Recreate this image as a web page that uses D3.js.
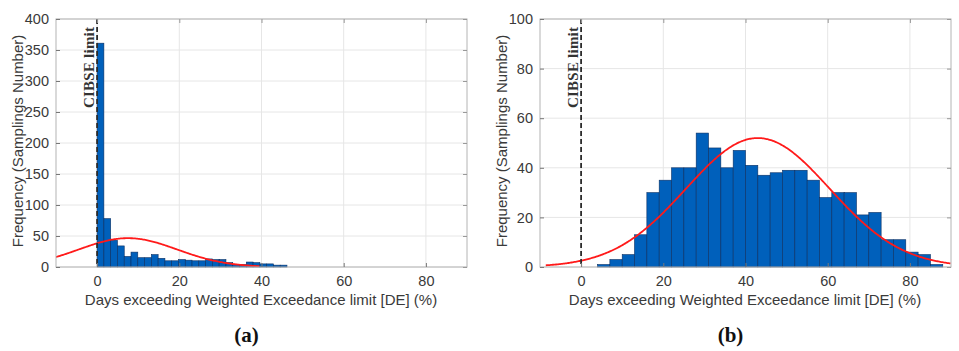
<!DOCTYPE html>
<html>
<head>
<meta charset="utf-8">
<script src="https://cdn.jsdelivr.net/npm/d3@7"></script>
<style>
  body { margin: 0; background: #fff; }
  svg { display: block; }
</style>
</head>
<body>
<svg id="chart" width="959" height="351"></svg>
<script>
// Shared axis settings
const xDomain = [-10, 90];
const xTicks = [0, 20, 40, 60, 80];
const limitX = 0;                       // CIBSE limit position (DE = 0 %)

// Panel (a): histogram bins
const binStartA = 0;
const binWidthA = 1.65;
const countsA = [361, 78, 43, 34, 17, 24, 15, 15, 20, 14, 10, 10, 12, 11,
                 10, 10, 13, 12, 12, 7, 4, 4, 8, 7, 5, 5, 3, 3];
const yDomainA = [0, 400];
const yTicksA = [0, 50, 100, 150, 200, 250, 300, 350, 400];
// Normal fit (a): mean, standard deviation, peak height, drawn range
const fitA = [7.5, 12, 46.5];
const fitRangeA = [-10, 39.5];

// Panel (b): histogram bins
const binStartB = 4;
const binWidthB = 3;
const countsB = [1, 3, 5, 13, 30, 35, 40, 40, 54, 48, 40, 47, 41, 37,
                 38, 39, 39, 35, 28, 30, 30, 21, 22, 11, 11, 6, 5, 1];
const yDomainB = [0, 100];
const yTicksB = [0, 20, 40, 60, 80, 100];
// Normal fit (b)
const fitB = [43, 17.5, 52];
const fitRangeB = [-8.6, 90];

const xLabel = "Days exceeding Weighted Exceedance limit [DE] (%)";
const yLabel = "Frequency (Samplings Number)";
const limitLabel = "CIBSE limit";

const svg = d3.select("#chart");
const sansFont = "'Liberation Sans', Arial, Helvetica, sans-serif";
const serifFont = "'Liberation Serif', 'Times New Roman', serif";

function drawPanel(opts) {
  const { left, right, top, bottom, binStart, binWidth, counts,
          yDomain, yTicks, fit, fitRange, tag, id } = opts;

  const x = d3.scaleLinear().domain(xDomain).range([left, right]);
  const y = d3.scaleLinear().domain(yDomain).range([bottom, top]);
  const g = svg.append("g");

  g.append("clipPath").attr("id", "clip-" + id)
    .append("rect").attr("x", left).attr("y", top)
    .attr("width", right - left).attr("height", bottom - top);

  // grid
  const grid = g.append("g").attr("stroke", "#e6e6e6").attr("stroke-width", 1);
  grid.selectAll("line.gx").data(xTicks).join("line")
    .attr("x1", d => x(d)).attr("x2", d => x(d))
    .attr("y1", top).attr("y2", bottom);
  grid.selectAll("line.gy").data(yTicks).join("line")
    .attr("x1", left).attr("x2", right)
    .attr("y1", d => y(d)).attr("y2", d => y(d));

  // histogram bars
  const bins = counts.map((c, i) => ({
    x0: binStart + i * binWidth,
    x1: binStart + (i + 1) * binWidth,
    c
  }));
  g.append("g")
    .selectAll("rect").data(bins).join("rect")
    .attr("x", d => x(d.x0))
    .attr("width", d => x(d.x1) - x(d.x0))
    .attr("y", d => y(d.c))
    .attr("height", d => y(0) - y(d.c))
    .attr("fill", "#0060bb")
    .attr("stroke", "#0a2f63")
    .attr("stroke-width", 0.6);

  // fitted normal curve
  const [mu, sd, peak] = fit;
  const pts = d3.range(fitRange[0], fitRange[1] + 0.001, 0.25)
    .map(v => [v, peak * Math.exp(-((v - mu) ** 2) / (2 * sd * sd))]);
  g.append("path")
    .datum(pts)
    .attr("clip-path", `url(#clip-${id})`)
    .attr("fill", "none")
    .attr("stroke", "#ff1a1a")
    .attr("stroke-width", 1.8)
    .attr("d", d3.line().x(d => x(d[0])).y(d => y(d[1])));

  // CIBSE limit line and label
  g.append("line")
    .attr("x1", x(limitX)).attr("x2", x(limitX))
    .attr("y1", top).attr("y2", bottom)
    .attr("stroke", "#2b2b2b")
    .attr("stroke-width", 1.8)
    .attr("stroke-dasharray", "5,3");
  g.append("text")
    .attr("transform", `translate(${x(limitX) - 3},${top + 89}) rotate(-90)`)
    .attr("font-family", serifFont)
    .attr("font-weight", "bold")
    .attr("font-size", 15)
    .attr("textLength", 81)
    .attr("lengthAdjust", "spacing")
    .attr("fill", "#333")
    .text(limitLabel);

  // axes frame
  g.append("rect")
    .attr("x", left).attr("y", top)
    .attr("width", right - left).attr("height", bottom - top)
    .attr("fill", "none").attr("stroke", "#b4b4b4").attr("stroke-width", 1);

  // bottom axis
  const xAxis = d3.axisBottom(x).tickValues(xTicks).tickSizeInner(-4).tickSizeOuter(0).tickPadding(9);
  const gx = g.append("g").attr("transform", `translate(0,${bottom})`).call(xAxis);
  gx.select(".domain").remove();
  gx.selectAll(".tick line").attr("stroke", "#777");
  gx.selectAll(".tick text").attr("fill", "#3a3a3a")
    .attr("font-family", sansFont).attr("font-size", 14.5);

  // top ticks
  const gxt = g.append("g").attr("transform", `translate(0,${top})`)
    .call(d3.axisTop(x).tickValues(xTicks).tickSizeInner(-4).tickSizeOuter(0).tickFormat(""));
  gxt.select(".domain").remove();
  gxt.selectAll(".tick line").attr("stroke", "#999");

  // left axis
  const yAxis = d3.axisLeft(y).tickValues(yTicks).tickSizeInner(-4).tickSizeOuter(0).tickPadding(7);
  const gy = g.append("g").attr("transform", `translate(${left},0)`).call(yAxis);
  gy.select(".domain").remove();
  gy.selectAll(".tick line").attr("stroke", "#777");
  gy.selectAll(".tick text").attr("fill", "#3a3a3a")
    .attr("font-family", sansFont).attr("font-size", 14.5);

  // right ticks
  const gyr = g.append("g").attr("transform", `translate(${right},0)`)
    .call(d3.axisRight(y).tickValues(yTicks).tickSizeInner(-4).tickSizeOuter(0).tickFormat(""));
  gyr.select(".domain").remove();
  gyr.selectAll(".tick line").attr("stroke", "#999");

  // axis titles
  g.append("text")
    .attr("x", (left + right) / 2 - 0.5).attr("y", bottom + 38)
    .attr("text-anchor", "middle")
    .attr("font-family", sansFont).attr("font-size", 15)
    .attr("fill", "#3a3a3a")
    .text(xLabel);
  g.append("text")
    .attr("transform", `translate(${left - 33},${(top + bottom) / 2 - 2}) rotate(-90)`)
    .attr("text-anchor", "middle")
    .attr("font-family", sansFont).attr("font-size", 15)
    .attr("fill", "#3a3a3a")
    .text(yLabel);

  // panel tag
  g.append("text")
    .attr("x", (left + right) / 2 - 15).attr("y", 342)
    .attr("text-anchor", "middle")
    .attr("font-family", serifFont).attr("font-weight", "bold")
    .attr("font-size", 21)
    .attr("fill", "#111")
    .text(tag);
}

drawPanel({
  id: "a", left: 56, right: 467, top: 19, bottom: 267,
  binStart: binStartA, binWidth: binWidthA, counts: countsA,
  yDomain: yDomainA, yTicks: yTicksA, fit: fitA, fitRange: fitRangeA, tag: "(a)"
});
drawPanel({
  id: "b", left: 540, right: 951, top: 19, bottom: 267,
  binStart: binStartB, binWidth: binWidthB, counts: countsB,
  yDomain: yDomainB, yTicks: yTicksB, fit: fitB, fitRange: fitRangeB, tag: "(b)"
});
</script>
</body>
</html>
